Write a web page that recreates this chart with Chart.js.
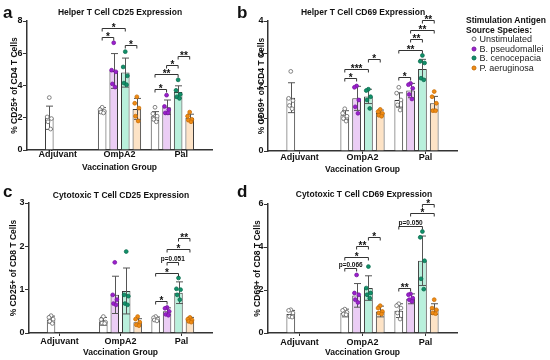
<!DOCTYPE html>
<html>
<head>
<meta charset="utf-8">
<script src="https://cdn.jsdelivr.net/npm/chart.js@4.4.0/dist/chart.umd.min.js"></script>
<style>
  body { margin: 0; background: #fff; font-family: 'Liberation Sans', Arial, sans-serif; }
  #fig { position: relative; width: 550px; height: 360px; overflow: hidden; }
  canvas { position: absolute; }
  .letter { position: absolute; font-weight: bold; font-size: 17px; line-height: 1; color: #111; }
  .ttl { position: absolute; font-weight: bold; font-size: 8.5px; color: #111; white-space: nowrap; transform: translate(-50%, -50%); }
  .lg { position: absolute; white-space: nowrap; color: #222; transform: translateY(-50%); }
  .mk { position: absolute; width: 3px; height: 3px; border-radius: 50%; transform: translate(-50%, -50%); }
</style>
</head>
<body>
<div id="fig">
  <canvas id="pa" width="222" height="180" style="left:0;top:0"></canvas>
  <canvas id="pb" width="232" height="180" style="left:230px;top:0"></canvas>
  <canvas id="pc" width="222" height="180" style="left:0;top:180px"></canvas>
  <canvas id="pd" width="232" height="180" style="left:230px;top:180px"></canvas>

  <div class="letter" style="left:3px;top:4px">a</div>
  <div class="letter" style="left:237px;top:4px">b</div>
  <div class="letter" style="left:3px;top:183px">c</div>
  <div class="letter" style="left:237px;top:183px">d</div>

  <div class="ttl" style="left:120px;top:12px">Helper T Cell CD25 Expression</div>
  <div class="ttl" style="left:363px;top:12px">Helper T Cell CD69 Expression</div>
  <div class="ttl" style="left:121px;top:195px">Cytotoxic T Cell CD25 Expression</div>
  <div class="ttl" style="left:364px;top:194px">Cytotoxic T Cell CD69 Expression</div>

  <div id="legend"></div>
</div>

<script>
// Categories
const groups = ['Adjuvant', 'OmpA2', 'Pal'];
const antigens = ['Unstimulated', 'B. pseudomallei', 'B. cenocepacia', 'P. aeruginosa'];

// a: Helper T cell CD25 (rows = antigen, cols = group)
const cd4cd25Mean = [[2.0, 2.45, 2.1], [null, 4.9, 2.65], [null, 4.8, 3.6], [null, 2.55, 2.0]];
const cd4cd25Sd = [[0.72, 0.18, 0.28], [null, 1.08, 0.45], [null, 0.9, 0.38], [null, 0.65, 0.22]];
const cd4cd25Pts = [
  [[3.25, 2.05, 1.95, 1.75, 1.3], [2.65, 2.5, 2.4, 2.35, 2.3], [2.65, 2.25, 2.1, 1.9, 1.75]],
  [null, [6.65, 4.95, 4.85, 4.1, 3.9], [3.4, 2.7, 2.5, 2.3, 2.3]],
  [null, [6.1, 5.15, 4.6, 4.15, 4.05], [4.35, 3.7, 3.45, 3.3, 3.2]],
  [null, [3.3, 2.9, 2.6, 2.1, 1.8], [2.35, 2.1, 1.9, 1.85, 1.75]]
];
// [group, from, to, level, label]
const cd4cd25Sig = [[1, 0, 2, 7.58, '*'], [1, 0, 1, 6.98, '*'], [1, 2, 3, 6.5, '*'],
  [2, 0, 1, 3.78, '*'], [2, 0, 2, 4.71, '**'], [2, 1, 2, 5.27, '*'], [2, 2, 3, 5.83, '**']];

// b: Helper T cell CD69
const cd4cd69Mean = [[1.64, 1.1, 1.57], [null, 1.62, 1.86], [null, 1.68, 2.52], [null, 1.17, 1.47]];
const cd4cd69Sd = [[0.46, 0.14, 0.22], [null, 0.37, 0.22], [null, 0.22, 0.3], [null, 0.09, 0.21]];
const cd4cd69Pts = [
  [[2.45, 1.62, 1.55, 1.4, 1.3], [1.3, 1.16, 1.07, 1.0, 0.92], [1.96, 1.78, 1.57, 1.42, 1.26]],
  [null, [2.0, 1.96, 1.57, 1.36, 1.16], [2.08, 2.04, 1.93, 1.74, 1.6]],
  [null, [1.9, 1.86, 1.67, 1.57, 1.31], [2.94, 2.76, 2.71, 2.24, 2.19]],
  [null, [1.28, 1.21, 1.16, 1.1, 1.07], [1.83, 1.67, 1.47, 1.24, 1.24]]
];
const cd4cd69Sig = [[1, 0, 1, 2.24, '*'], [1, 0, 2, 2.52, '***'], [1, 2, 3, 2.83, '*'],
  [2, 0, 1, 2.29, '*'], [2, 0, 2, 3.12, '**'], [2, 1, 2, 3.45, '**'], [2, 1, 3, 3.72, '**'], [2, 2, 3, 4.03, '**']];

// c: Cytotoxic T cell CD25
const cd8cd25Mean = [[0.31, 0.27, 0.32], [null, 0.88, 0.5], [null, 0.97, 0.93], [null, 0.25, 0.3]];
const cd8cd25Sd = [[0.08, 0.09, 0.05], [null, 0.43, 0.08], [null, 0.53, 0.25], [null, 0.08, 0.06]];
const cd8cd25Pts = [
  [[0.4, 0.36, 0.32, 0.27, 0.22], [0.38, 0.31, 0.25, 0.23, 0.22], [0.38, 0.35, 0.32, 0.3, 0.28]],
  [null, [1.63, 0.88, 0.77, 0.68, 0.65], [0.59, 0.57, 0.5, 0.43, 0.41]],
  [null, [1.88, 0.88, 0.85, 0.68, 0.65], [1.27, 1.02, 1.0, 0.88, 0.77]],
  [null, [0.38, 0.32, 0.25, 0.19, 0.17], [0.36, 0.32, 0.3, 0.27, 0.25]]
];
const cd8cd25Sig = [[2, 0, 1, 0.73, '*'], [2, 0, 2, 1.38, '*'], [2, 1, 2, 1.65, 'p=0.051'],
  [2, 1, 3, 1.94, '*'], [2, 2, 3, 2.19, '**']];

// d: Cytotoxic T cell CD69
const cd8cd69Mean = [[0.88, 0.93, 1.04], [null, 1.75, 1.59], [null, 2.09, 3.36], [null, 1.0, 1.11]];
const cd8cd69Sd = [[0.17, 0.18, 0.32], [null, 0.55, 0.23], [null, 0.57, 1.15], [null, 0.25, 0.25]];
const cd8cd69Pts = [
  [[1.08, 1.05, 0.93, 0.77, 0.74], [1.11, 1.05, 0.96, 0.88, 0.85], [1.36, 1.27, 1.16, 0.93, 0.65]],
  [null, [2.7, 1.86, 1.78, 1.55, 1.42], [1.82, 1.78, 1.62, 1.55, 1.47]],
  [null, [3.09, 2.09, 1.86, 1.78, 1.62], [4.72, 4.45, 3.36, 2.52, 2.04]],
  [null, [1.27, 1.16, 1.0, 0.93, 0.88], [1.55, 1.16, 1.08, 0.93, 0.9]]
];
const cd8cd69Sig = [[1, 0, 1, 3.02, 'p=0.066'], [1, 0, 2, 3.53, '*'], [1, 1, 2, 4.05, '**'], [1, 2, 3, 4.45, '*'],
  [2, 0, 1, 2.09, '**'], [2, 0, 2, 5.0, 'p=0.050'], [2, 1, 3, 5.57, '*'], [2, 2, 3, 6.0, '*']];

// Styles
const FONT = "'Liberation Sans', Arial, sans-serif";
const barFill = ['#ffffff', '#ebcdf5', '#b9f0dc', '#fde3c6'];
const dotFill = ['#ffffff', '#9b1fce', '#11916a', '#f08c14'];
const dotEdge = ['#666666', '#7a1aa2', '#0c6f51', '#c96f08'];
const slot = 0.875 / 4;          // share of a group taken by one bar slot
const barPct = 0.74;
const jitter = [0, -0.04, 0.04, -0.025, 0.025];
const axisColor = '#333';

// x position (in group units) of a bar slot
const slotX = (g, s) => g + (s - 1.5) * slot;

// mean +/- SD whiskers, drawn after the bars and before the dots
function errorBars(mean, sd) {
  return {
    id: 'errorBars',
    afterDatasetDraw(chart, args) {
      if (args.index !== 0) return;
      const ctx = chart.ctx;
      const y = chart.scales.y;
      ctx.save();
      ctx.strokeStyle = '#555';
      ctx.lineWidth = 1;
      mean.forEach((row, s) => {
        const meta = chart.getDatasetMeta(s);
        row.forEach((m, g) => {
          if (m == null) return;
          const x = Math.round(meta.data[g].x) + 0.5;
          const top = y.getPixelForValue(m + sd[s][g]);
          const bot = y.getPixelForValue(Math.max(0, m - sd[s][g]));
          ctx.beginPath();
          ctx.moveTo(x, top); ctx.lineTo(x, bot);
          ctx.moveTo(x - 3.5, top); ctx.lineTo(x + 3.5, top);
          ctx.moveTo(x - 3.5, bot); ctx.lineTo(x + 3.5, bot);
          ctx.stroke();
        });
      });
      ctx.restore();
    }
  };
}

// significance brackets
function brackets(sig) {
  return {
    id: 'brackets',
    afterDraw(chart) {
      const ctx = chart.ctx;
      const y = chart.scales.y;
      ctx.save();
      ctx.strokeStyle = '#333';
      ctx.fillStyle = '#111';
      ctx.lineWidth = 1;
      ctx.textAlign = 'center';
      ctx.textBaseline = 'alphabetic';
      sig.forEach(([g, a, b, level, label]) => {
        const x1 = chart.getDatasetMeta(a).data[g].x;
        const x2 = chart.getDatasetMeta(b).data[g].x;
        const yp = Math.round(y.getPixelForValue(level)) + 0.5;
        ctx.beginPath();
        ctx.moveTo(x1, yp + 3); ctx.lineTo(x1, yp); ctx.lineTo(x2, yp); ctx.lineTo(x2, yp + 3);
        ctx.stroke();
        if (label.startsWith('p')) {
          ctx.font = 'bold 6.5px ' + FONT;
          ctx.fillText(label, (x1 + x2) / 2, yp - 1.5);
        } else {
          ctx.font = 'bold 10px ' + FONT;
          ctx.fillText(label, (x1 + x2) / 2, yp + 2);
        }
      });
      ctx.restore();
    }
  };
}

function makePanel(id, mean, sd, pts, sig, yMax, yStep, yTitle, geo) {
  const barSets = antigens.map((name, s) => ({
    type: 'bar',
    label: name,
    xAxisID: 'xp',
    data: mean[s].map((m, g) => ({ x: slotX(g, s), y: m })),
    order: 2,
    grouped: false,
    backgroundColor: barFill[s],
    borderColor: '#3a3a3a',
    borderWidth: 1,
    categoryPercentage: 1,
    barPercentage: barPct
  }));
  const dotSets = antigens.map((name, s) => ({
    type: 'scatter',
    label: name,
    xAxisID: 'xp',
    order: 1,
    data: pts[s].flatMap((vals, g) => vals ? vals.map((v, k) => ({ x: slotX(g, s) + jitter[k], y: v })) : []),
    pointRadius: 1.9,
    pointBackgroundColor: dotFill[s],
    pointBorderColor: dotEdge[s],
    pointBorderWidth: 0.8
  }));

  const tickFont = { family: FONT, weight: 'bold', size: 9, lineHeight: 1 };
  const titleFont = { family: FONT, weight: 'bold', size: 8.5, lineHeight: 1.2 };

  new Chart(document.getElementById(id), {
    type: 'bar',
    data: { labels: groups, datasets: [...barSets, ...dotSets] },
    options: {
      responsive: false,
      animation: false,
      layout: { padding: { left: 0, right: geo.padR, top: geo.padT, bottom: 0 } },
      plugins: { legend: { display: false }, tooltip: { enabled: false } },
      scales: {
        x: {
          type: 'category',
          offset: true,
          grid: { drawOnChartArea: false, offset: false, tickLength: 3, color: axisColor },
          border: { color: axisColor, width: 1.5 },
          ticks: { font: tickFont, color: '#111', padding: geo.tickPad, maxRotation: 0 },
          title: { display: true, text: 'Vaccination Group', font: titleFont, color: '#111', padding: { top: 0, bottom: geo.xTitlePad } },
          afterFit: scale => { scale.height = geo.xH; }
        },
        // hidden numeric twin of the category axis, for bars and dots
        xp: { type: 'linear', display: false, min: -0.5, max: 2.5, ticks: { stepSize: 0.5 } },
        y: {
          min: 0,
          max: yMax,
          ticks: { stepSize: yStep, font: tickFont, color: '#111', padding: 0.5 },
          grid: { drawOnChartArea: false, tickLength: 4, color: axisColor },
          border: { color: axisColor, width: 1.5 },
          title: { display: true, text: yTitle, font: titleFont, color: '#111', padding: { top: geo.yTitlePad, bottom: 0 } },
          afterFit: scale => { scale.width = geo.yW; }
        }
      }
    },
    plugins: [errorBars(mean, sd), brackets(sig)]
  });
}

makePanel('pa', cd4cd25Mean, cd4cd25Sd, cd4cd25Pts, cd4cd25Sig, 8, 2, '% CD25+ of CD4 T Cells',
  { padR: 10, padT: 21, xH: 30, yW: 27, tickPad: -2.5, xTitlePad: 6.9, yTitlePad: 9.9 });
makePanel('pb', cd4cd69Mean, cd4cd69Sd, cd4cd69Pts, cd4cd69Sig, 4, 1, '% CD69+ of CD4 T Cells',
  { padR: 5, padT: 21, xH: 29, yW: 38, tickPad: -0.5, xTitlePad: 4.9, yTitlePad: 26.6 });
makePanel('pc', cd8cd25Mean, cd8cd25Sd, cd8cd25Pts, cd8cd25Sig, 3, 1, '% CD25+ of CD8 T Cells',
  { padR: 10, padT: 23, xH: 27, yW: 29, tickPad: 1.5, xTitlePad: 1.9, yTitlePad: 8.2 });
makePanel('pd', cd8cd69Mean, cd8cd69Sd, cd8cd69Pts, cd8cd69Sig, 6, 2, '% CD69+ of CD8 T Cells',
  { padR: 5, padT: 24, xH: 27, yW: 38, tickPad: 2.5, xTitlePad: 1.9, yTitlePad: 22.2 });

// Legend (HTML)
const legend = document.getElementById('legend');
const head = ['Stimulation Antigen', 'Source Species:'];
head.forEach((t, i) => {
  const d = document.createElement('div');
  d.className = 'lg';
  d.style.cssText = `left:466px;top:${20 + i * 10}px;font-weight:bold;font-size:8.5px;color:#111`;
  d.textContent = t;
  legend.appendChild(d);
});
antigens.forEach((name, s) => {
  const cy = 39 + s * 9.7;
  const m = document.createElement('div');
  m.className = 'mk';
  m.style.cssText = `left:474px;top:${cy}px;background:${dotFill[s]};border:0.8px solid ${dotEdge[s]}`;
  legend.appendChild(m);
  const d = document.createElement('div');
  d.className = 'lg';
  d.style.cssText = `left:479.5px;top:${cy}px;font-size:9px`;
  d.textContent = name;
  legend.appendChild(d);
});
</script>
</body>
</html>
